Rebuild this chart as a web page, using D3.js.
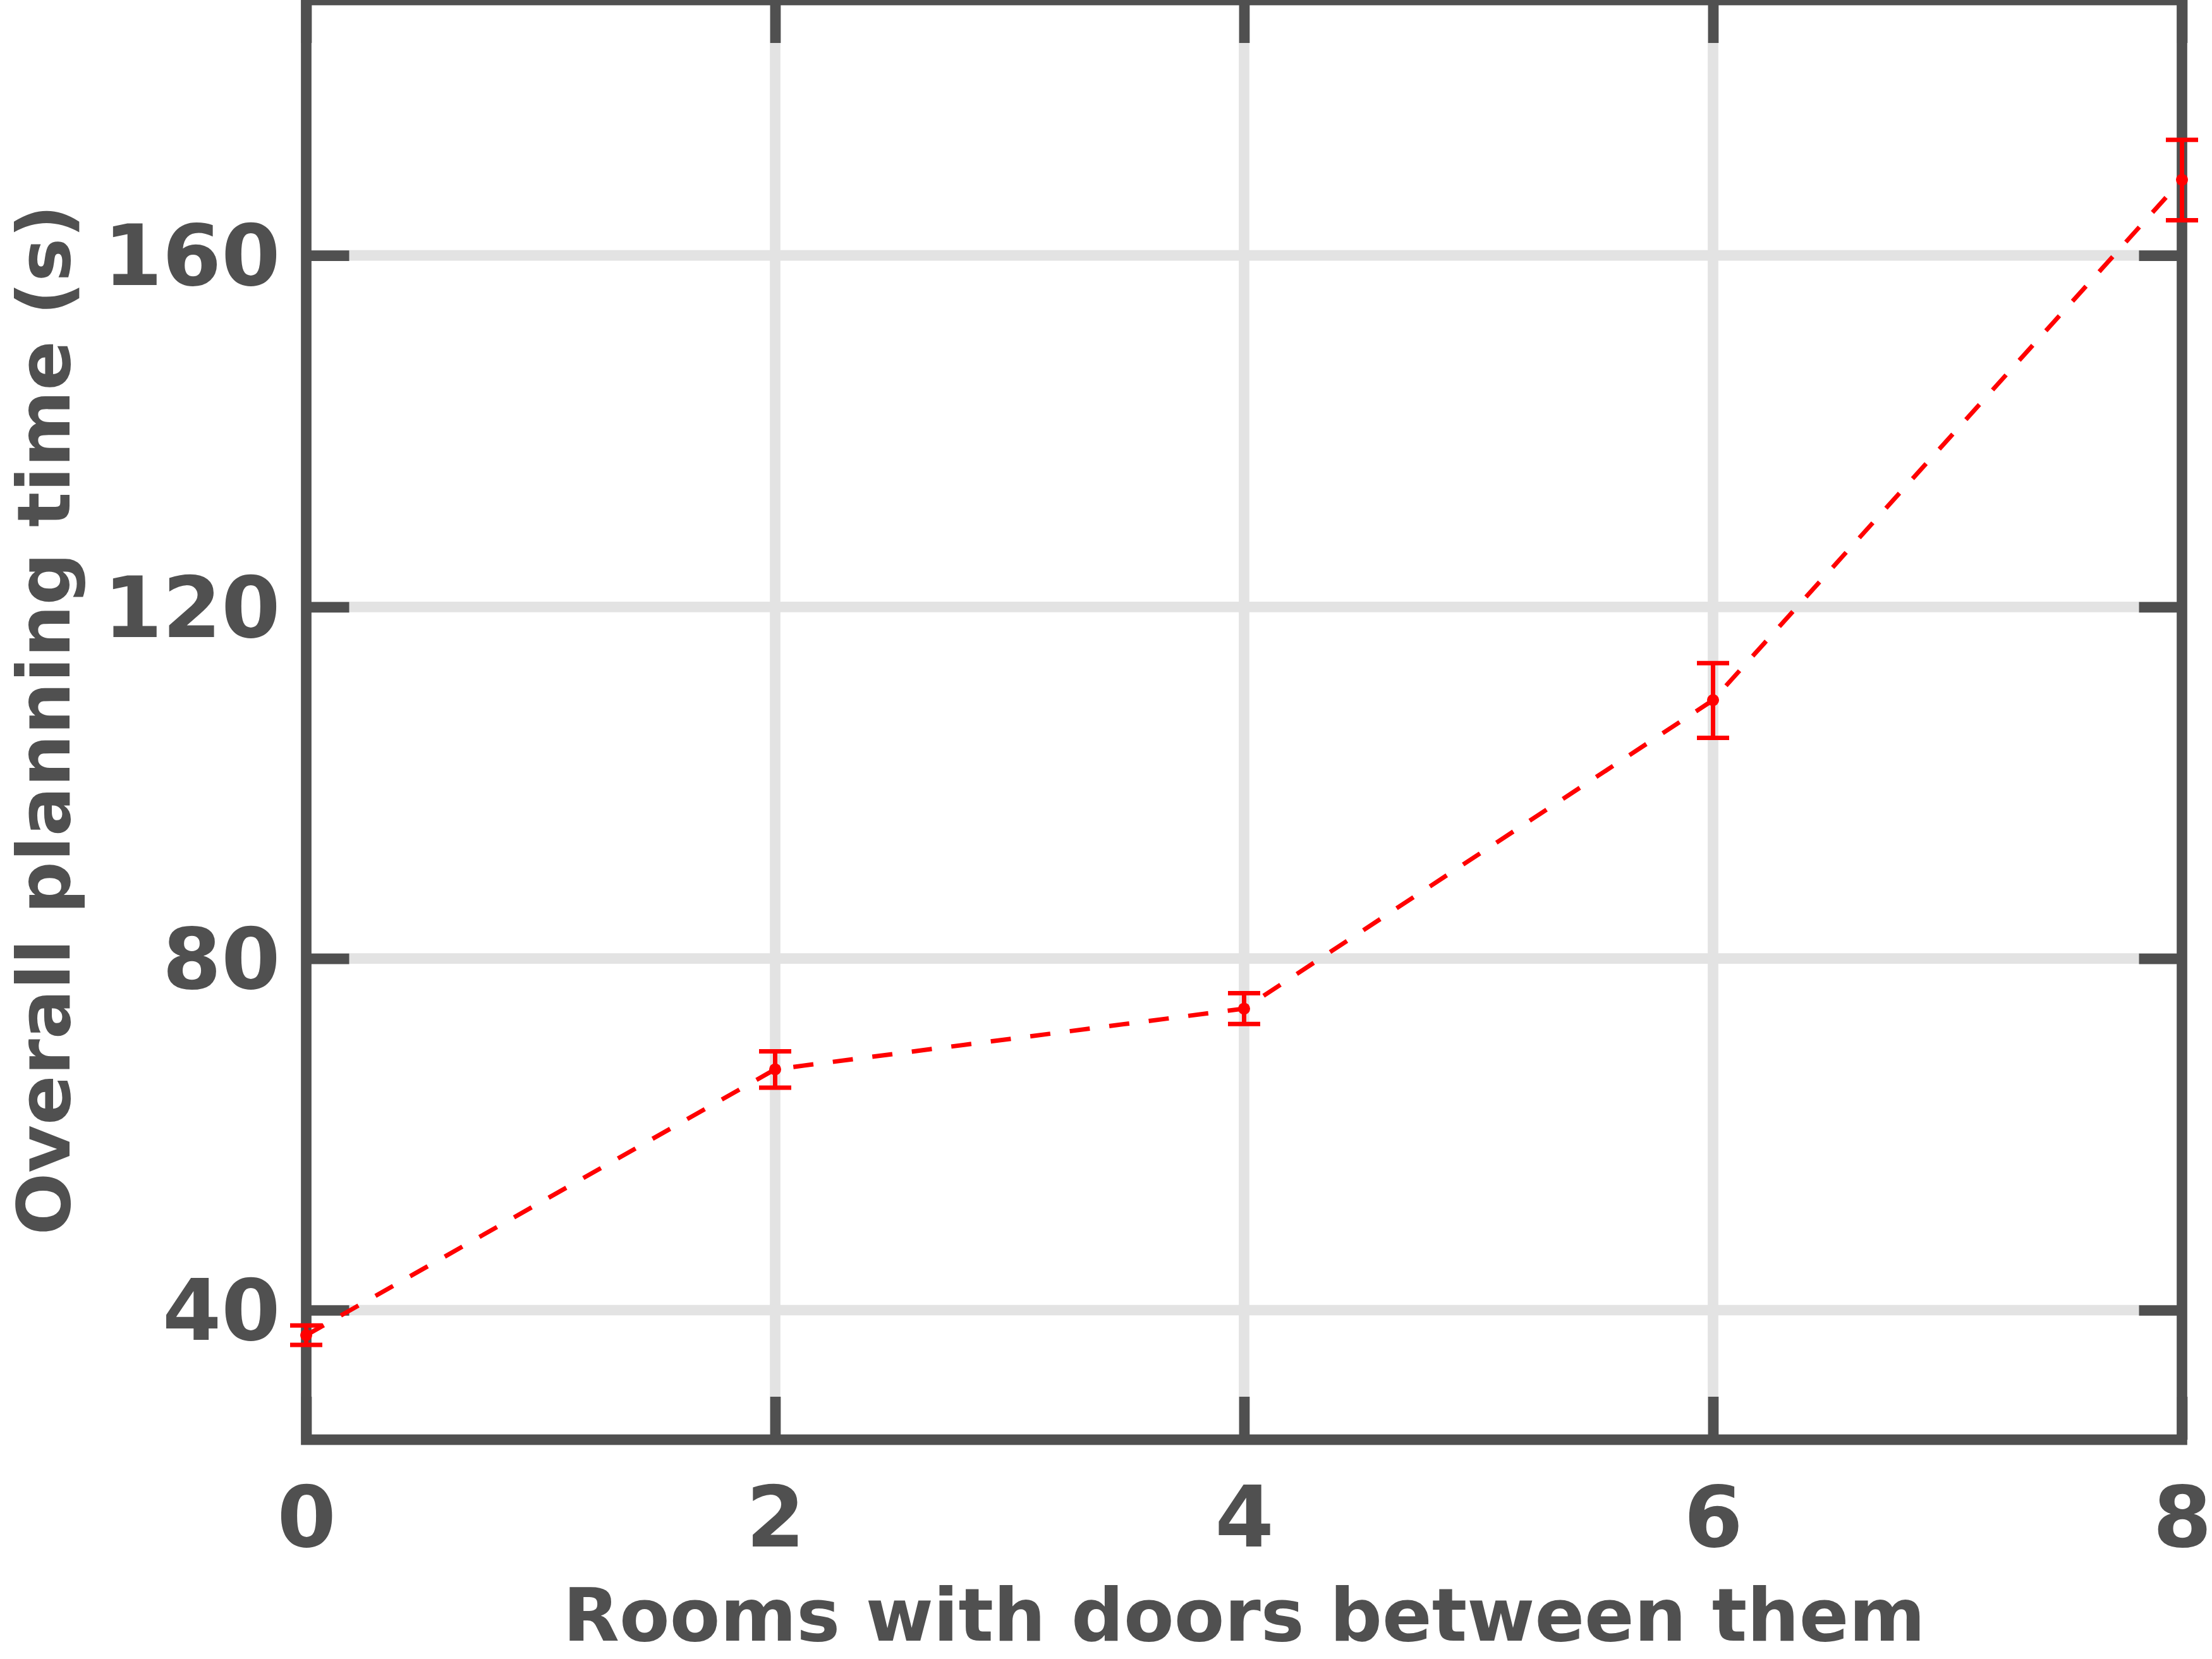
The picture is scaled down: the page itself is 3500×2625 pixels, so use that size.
<!DOCTYPE html>
<html>
<head>
<meta charset="utf-8">
<script src="https://cdn.jsdelivr.net/npm/d3@7"></script>
<style>
  html, body { margin: 0; padding: 0; background: #ffffff; }
  svg { display: block; }
</style>
</head>
<body>
<svg id="chart" width="3500" height="2625"></svg>
<script>
// ---- data ----
const rooms = [0, 2, 4, 6, 8];
const planningTime = [37.15, 67.4, 74.3, 109.4, 168.6];
const errLow = [36.05, 65.3, 72.55, 105.1, 164.0];
const errHigh = [38.25, 69.45, 76.05, 113.6, 173.15];
const xTicks = [0, 2, 4, 6, 8];
const yTicks = [40, 80, 120, 160];
const xTitle = "Rooms with doors between them";
const yTitle = "Overall planning time (s)";

(function () {
// ---- layout ----
const pLeft = 484.5, pRight = 3452.5, pTop = 0, pBottom = 2278;
const axisColor = "#505050";
const gridColor = "#e3e3e3";
const lw = 16.7;
const tickLen = 68;
const font = "'DejaVu Sans', sans-serif";

const svg = d3.select("#chart");
const x = d3.scaleLinear().domain([0, 8]).range([pLeft, pRight]);
const y = d3.scaleLinear().domain([25.26, 189.05]).range([pBottom, pTop]);

// grid
const grid = svg.append("g");
grid.selectAll("line.gx").data(xTicks.slice(1, -1)).join("line")
  .attr("class", "gx")
  .attr("x1", d => x(d)).attr("x2", d => x(d))
  .attr("y1", pTop).attr("y2", pBottom)
  .attr("stroke", gridColor).attr("stroke-width", lw);
grid.selectAll("line.gy").data(yTicks).join("line")
  .attr("class", "gy")
  .attr("x1", pLeft).attr("x2", pRight)
  .attr("y1", d => y(d)).attr("y2", d => y(d))
  .attr("stroke", gridColor).attr("stroke-width", lw);

function styleAxis(g) {
  g.select(".domain").remove();
  g.selectAll(".tick line").attr("stroke", axisColor).attr("stroke-width", lw);
}
// bottom
svg.append("g").attr("transform", `translate(0,${pBottom})`)
  .call(d3.axisBottom(x).tickValues(xTicks).tickSizeInner(-tickLen).tickSizeOuter(0).tickFormat(d3.format("d")))
  .call(styleAxis)
  .call(g => g.selectAll(".tick text")
    .attr("y", 169).attr("dy", null)
    .attr("fill", axisColor).attr("font-family", font)
    .attr("font-weight", "bold").attr("font-size", 134)
    .attr("text-anchor", "middle"));
// top
svg.append("g").attr("transform", `translate(0,${pTop})`)
  .call(d3.axisTop(x).tickValues(xTicks).tickSizeInner(-tickLen).tickSizeOuter(0).tickFormat(""))
  .call(styleAxis);
// left
svg.append("g").attr("transform", `translate(${pLeft},0)`)
  .call(d3.axisLeft(y).tickValues(yTicks).tickSizeInner(-tickLen).tickSizeOuter(0).tickFormat(d3.format("d")))
  .call(styleAxis)
  .call(g => g.selectAll(".tick text")
    .attr("x", -41).attr("dy", "0.35em")
    .attr("fill", axisColor).attr("font-family", font)
    .attr("font-weight", "bold").attr("font-size", 134)
    .attr("text-anchor", "end"));
// right
svg.append("g").attr("transform", `translate(${pRight},0)`)
  .call(d3.axisRight(y).tickValues(yTicks).tickSizeInner(-tickLen).tickSizeOuter(0).tickFormat(""))
  .call(styleAxis);

// frame
svg.append("rect")
  .attr("x", pLeft).attr("y", pTop)
  .attr("width", pRight - pLeft).attr("height", pBottom - pTop)
  .attr("fill", "none").attr("stroke", axisColor).attr("stroke-width", lw);

// titles
svg.append("text")
  .attr("x", (pLeft + pRight) / 2).attr("y", 2596)
  .attr("text-anchor", "middle")
  .attr("font-family", font).attr("font-weight", "bold").attr("font-size", 116)
  .attr("fill", axisColor).text(xTitle);
svg.append("text")
  .attr("transform", `translate(110,${(pTop + pBottom) / 2}) rotate(-90)`)
  .attr("text-anchor", "middle")
  .attr("font-family", font).attr("font-weight", "bold").attr("font-size", 116)
  .attr("fill", axisColor).text(yTitle);

// data
const data = rooms.map((r, i) => ({ r, v: planningTime[i], lo: errLow[i], hi: errHigh[i] }));
const red = "#ff0000";
const line = d3.line().x(d => x(d.r)).y(d => y(d.v));
svg.append("path").datum(data)
  .attr("d", line).attr("fill", "none")
  .attr("stroke", red).attr("stroke-width", 7)
  .attr("stroke-dasharray", "32,31");

const eb = svg.append("g");
eb.selectAll("line.v").data(data).join("line")
  .attr("class", "v")
  .attr("x1", d => x(d.r)).attr("x2", d => x(d.r))
  .attr("y1", d => y(d.lo)).attr("y2", d => y(d.hi))
  .attr("stroke", red).attr("stroke-width", 7);
eb.selectAll("line.ct").data(data).join("line")
  .attr("class", "ct")
  .attr("x1", d => x(d.r) - 25.5).attr("x2", d => x(d.r) + 25.5)
  .attr("y1", d => y(d.hi)).attr("y2", d => y(d.hi))
  .attr("stroke", red).attr("stroke-width", 7);
eb.selectAll("line.cb").data(data).join("line")
  .attr("class", "cb")
  .attr("x1", d => x(d.r) - 25.5).attr("x2", d => x(d.r) + 25.5)
  .attr("y1", d => y(d.lo)).attr("y2", d => y(d.lo))
  .attr("stroke", red).attr("stroke-width", 7);
eb.selectAll("circle").data(data).join("circle")
  .attr("cx", d => x(d.r)).attr("cy", d => y(d.v)).attr("r", 9.5)
  .attr("fill", red);
})();
</script>
</body>
</html>
